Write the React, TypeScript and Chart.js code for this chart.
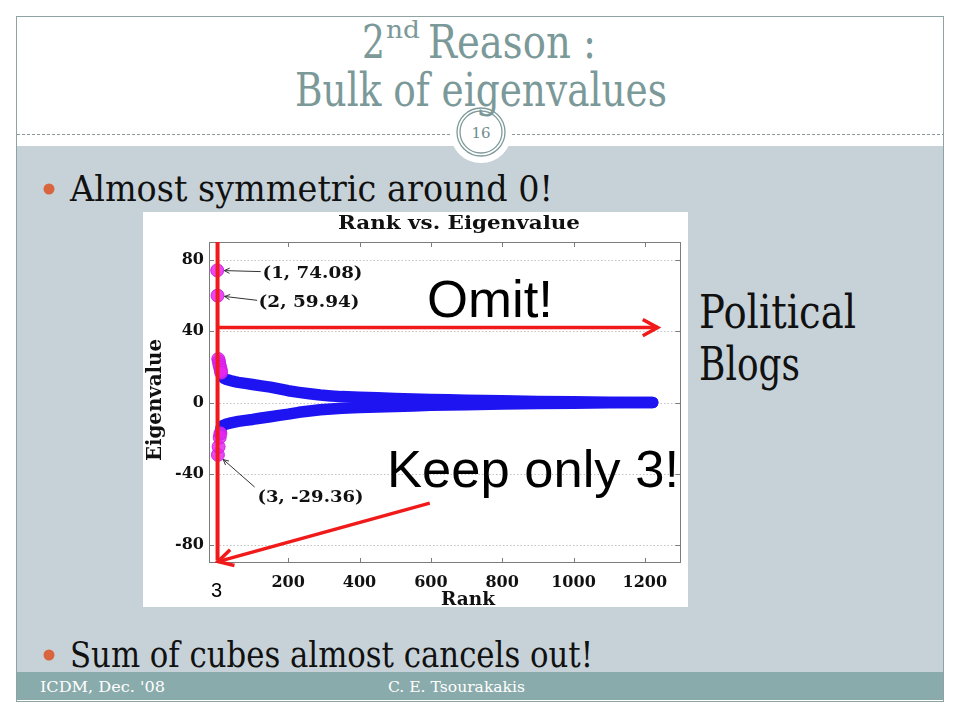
import React, { useEffect, useRef } from "react";
import { Chart, registerables } from "chart.js";

Chart.register(...registerables);

// ---------------- data ----------------
// leading (largest |eigenvalue|) points, highlighted in magenta
const leadingRanks = [1, 2, 3, 4, 5, 6, 7, 8, 9, 10, 11, 12];
const leadingValues = [74.08, 59.94, -29.36, 24.4, -24.8, 23.0, 21.4, -19.6, 19.8, -17.3, 18.2, 16.8];

// bulk of positive eigenvalues
const upperRanks = [12, 15, 20, 25, 30, 40, 50, 60, 80, 100, 125, 150, 175, 200, 230, 260, 290, 320, 350, 400, 450, 500, 550, 600, 650, 700, 800, 900, 1000, 1100, 1222];
const upperValues = [16.8, 14.8, 13.6, 13.1, 12.8, 12.2, 11.7, 11.3, 10.7, 10.1, 9.3, 8.6, 7.6, 6.6, 5.7, 4.9, 4.2, 3.7, 3.3, 2.9, 2.6, 2.3, 2.0, 1.7, 1.5, 1.3, 0.95, 0.6, 0.4, 0.2, 0.05];

// bulk of negative eigenvalues
const lowerRanks = [10, 12, 15, 20, 25, 30, 40, 50, 60, 80, 100, 125, 150, 175, 200, 230, 260, 290, 320, 350, 400, 450, 500, 550, 600, 650, 700, 800, 900, 1000, 1100, 1222];
const lowerValues = [-17.3, -14.2, -13.2, -12.6, -12.2, -11.9, -11.4, -11.0, -10.6, -10.0, -9.5, -8.7, -8.0, -7.2, -6.5, -5.5, -4.8, -4.1, -3.6, -3.2, -2.8, -2.5, -2.2, -1.9, -1.6, -1.4, -1.2, -0.9, -0.6, -0.4, -0.2, -0.05];

const xTickValues = [200, 400, 600, 800, 1000, 1200];
const yTickValues = [-80, -40, 0, 40, 80];
const labelledCount = 3; // points 1..3 get "(rank, value)" labels

// ---------------- annotation geometry (data coordinates) ----------------
const LABEL_TEXT_POS = [
  { x: 128, y: 72.1, w: 100 },
  { x: 117, y: 55.8, w: 101 },
  { x: 114, y: -53.5, w: 106 },
];
const LABEL_TAIL_POS = [
  { x: 123, y: 73.4 },
  { x: 113, y: 57.3 },
  { x: 106, y: -47.4 },
];
const CUT_RANK = 2;
const OMIT_LEVEL = 42;
const OMIT_TIP_RANK = 1236;
const KEEP_TAIL = { x: 597, y: -56.4 };
const KEEP_TIP = { x: 3, y: -89.2 };

const SERIF = "'DejaVu Serif', serif";
const SANS = "'Liberation Sans', Arial, sans-serif";

function fitText(ctx: CanvasRenderingContext2D, text: string, x: number, y: number, width: number, align: CanvasTextAlign) {
  const w = ctx.measureText(text).width;
  ctx.save();
  ctx.translate(x, y);
  ctx.scale(width / w, 1);
  ctx.textAlign = align;
  ctx.fillText(text, 0, 0);
  ctx.restore();
}

function arrowHead(ctx: CanvasRenderingContext2D, tx: number, ty: number, fx: number, fy: number, len: number, ang: number) {
  const a = Math.atan2(fy - ty, fx - tx);
  ctx.beginPath();
  ctx.moveTo(tx + len * Math.cos(a - ang), ty + len * Math.sin(a - ang));
  ctx.lineTo(tx, ty);
  ctx.lineTo(tx + len * Math.cos(a + ang), ty + len * Math.sin(a + ang));
  ctx.stroke();
}

const decorPlugin = {
  id: "decor",
  beforeDatasetsDraw(chart: any) {
    const { ctx, chartArea: a, scales } = chart;
    const y = scales.y;
    ctx.save();
    ctx.strokeStyle = "#c2c2c2";
    ctx.lineWidth = 1;
    ctx.setLineDash([1.5, 2]);
    for (const v of yTickValues) {
      const py = Math.round(y.getPixelForValue(v)) + 0.5;
      ctx.beginPath();
      ctx.moveTo(a.left, py);
      ctx.lineTo(a.right, py);
      ctx.stroke();
    }
    ctx.restore();
  },
  afterDatasetsDraw(chart: any) {
    const { ctx, chartArea: a, scales } = chart;
    const xs = scales.x;
    const ys = scales.y;
    const px = (v: number) => xs.getPixelForValue(v);
    const py = (v: number) => ys.getPixelForValue(v);
    ctx.save();
    // box
    ctx.strokeStyle = "#7c7c7c";
    ctx.lineWidth = 1;
    ctx.strokeRect(Math.round(a.left) + 0.5, Math.round(a.top) + 0.5, Math.round(a.right - a.left) - 1, Math.round(a.bottom - a.top) - 1);
    ctx.beginPath();
    for (const v of xTickValues) {
      const x = Math.round(px(v)) + 0.5;
      ctx.moveTo(x, a.top);
      ctx.lineTo(x, a.top + 5);
      ctx.moveTo(x, a.bottom);
      ctx.lineTo(x, a.bottom - 5);
    }
    for (const v of yTickValues) {
      const y = Math.round(py(v)) + 0.5;
      ctx.moveTo(a.left, y);
      ctx.lineTo(a.left + 5, y);
      ctx.moveTo(a.right, y);
      ctx.lineTo(a.right - 5, y);
    }
    ctx.stroke();

    // titles
    ctx.fillStyle = "#111";
    ctx.textBaseline = "middle";
    ctx.font = `bold 19px ${SERIF}`;
    fitText(ctx, "Rank vs. Eigenvalue", 316, 12, 242, "center");
    ctx.font = `bold 19px ${SERIF}`;
    ctx.textBaseline = "alphabetic";
    fitText(ctx, "Rank", 325, 393, 54, "center");
    ctx.save();
    ctx.translate(13, 188);
    ctx.rotate(-Math.PI / 2);
    ctx.textBaseline = "middle";
    ctx.font = `bold 20px ${SERIF}`;
    fitText(ctx, "Eigenvalue", 0, 0, 122, "center");
    ctx.restore();

    // point labels with thin arrows
    ctx.font = `bold 17px ${SERIF}`;
    ctx.textBaseline = "middle";
    ctx.strokeStyle = "#333";
    ctx.lineWidth = 1;
    for (let i = 0; i < labelledCount; i++) {
      const txt = `(${leadingRanks[i]}, ${leadingValues[i].toFixed(2)})`;
      const tp = LABEL_TEXT_POS[i];
      fitText(ctx, txt, px(tp.x), py(tp.y), tp.w, "left");
      const tail = LABEL_TAIL_POS[i];
      const tx0 = px(tail.x), ty0 = py(tail.y);
      const ptx = px(leadingRanks[i]), pty = py(leadingValues[i]);
      const d = Math.hypot(tx0 - ptx, ty0 - pty);
      const tipx = ptx + ((tx0 - ptx) / d) * 7;
      const tipy = pty + ((ty0 - pty) / d) * 7;
      ctx.beginPath();
      ctx.moveTo(tx0, ty0);
      ctx.lineTo(tipx, tipy);
      ctx.stroke();
      arrowHead(ctx, tipx, tipy, tx0, ty0, 6, 0.45);
    }

    // red annotations
    ctx.strokeStyle = "#f01a1a";
    ctx.lineWidth = 4;
    ctx.lineCap = "butt";
    ctx.beginPath();
    ctx.moveTo(px(CUT_RANK), a.top);
    ctx.lineTo(px(CUT_RANK), py(-88.6));
    ctx.stroke();

    ctx.lineWidth = 3.5;
    ctx.beginPath();
    ctx.moveTo(px(CUT_RANK), py(OMIT_LEVEL));
    ctx.lineTo(px(OMIT_TIP_RANK), py(OMIT_LEVEL));
    ctx.stroke();
    arrowHead(ctx, px(OMIT_TIP_RANK), py(OMIT_LEVEL), px(CUT_RANK), py(OMIT_LEVEL), 17, 0.5);

    ctx.beginPath();
    ctx.moveTo(px(KEEP_TAIL.x), py(KEEP_TAIL.y));
    ctx.lineTo(px(KEEP_TIP.x), py(KEEP_TIP.y));
    ctx.stroke();
    arrowHead(ctx, px(KEEP_TIP.x), py(KEEP_TIP.y), px(KEEP_TAIL.x), py(KEEP_TAIL.y), 17, 0.5);
    ctx.restore();
  },
};

function toPoints(xs: number[], ys: number[]) {
  return xs.map((x, i) => ({ x, y: ys[i] }));
}

function EigenChart() {
  const ref = useRef<HTMLCanvasElement>(null);
  useEffect(() => {
    const canvas = ref.current!;
    const tickFont = { family: SERIF, weight: "bold" as const, size: 16 };
    const chart = new Chart(canvas, {
      type: "scatter",
      data: {
        datasets: [
          {
            label: "leading",
            data: toPoints(leadingRanks, leadingValues),
            pointRadius: 6.5,
            pointBackgroundColor: "rgba(232,40,236,0.85)",
            pointBorderColor: "rgba(200,30,230,0.9)",
            pointBorderWidth: 1,
            order: 0,
          },
          {
            label: "positive bulk",
            data: toPoints(upperRanks, upperValues),
            showLine: true,
            pointRadius: 0,
            borderColor: "#1e14f2",
            borderWidth: 11.5,
            borderCapStyle: "round",
            borderJoinStyle: "round",
            order: 1,
          },
          {
            label: "negative bulk",
            data: toPoints(lowerRanks, lowerValues),
            showLine: true,
            pointRadius: 0,
            borderColor: "#1e14f2",
            borderWidth: 11.5,
            borderCapStyle: "round",
            borderJoinStyle: "round",
            order: 1,
          },
        ],
      } as any,
      options: {
        animation: false,
        responsive: false,
        layout: { padding: { top: 30, right: 2, left: 0, bottom: 0 } },
        plugins: { legend: { display: false }, tooltip: { enabled: false }, title: { display: false } },
        scales: {
          x: {
            type: "linear",
            min: -22,
            max: 1300,
            afterBuildTicks: (s: any) => {
              s.ticks = xTickValues.map((v) => ({ value: v }));
            },
            afterFit: (s: any) => {
              s.height = 44;
            },
            grid: { display: false, drawTicks: false },
            border: { display: false },
            ticks: {
              font: tickFont,
              color: "#111",
              padding: 10,
              maxRotation: 0,
              autoSkip: false,
              callback: (v: any) => String(v),
            },
          },
          y: {
            type: "linear",
            min: -90,
            max: 90,
            afterBuildTicks: (s: any) => {
              s.ticks = yTickValues.map((v) => ({ value: v }));
            },
            afterFit: (s: any) => {
              s.width = 66;
            },
            grid: { display: false, drawTicks: false },
            border: { display: false },
            ticks: { font: tickFont, color: "#111", padding: 5, autoSkip: false, callback: (v: any) => String(v) },
          },
        },
      } as any,
      plugins: [decorPlugin],
    });
    return () => chart.destroy();
  }, []);
  return (
    <canvas
      ref={ref}
      width={545}
      height={395}
      style={{ position: "absolute", left: 143, top: 212, width: 545, height: 395, background: "#fff" }}
    />
  );
}

export default function App() {
  const teal = "#7b9998";
  return (
    <div style={{ position: "fixed", left: 0, top: 0, width: 960, height: 720, background: "#fff", overflow: "hidden" }}>
      <svg width={960} height={720} style={{ position: "absolute", left: 0, top: 0 }}>
        <rect x={16.5} y={16.5} width={927} height={685} fill="#fff" stroke="#8fa3a3" strokeWidth={1} />
        <rect x={17} y={146} width={926} height={526} fill="#c7d2d8" />
        <rect x={17} y={672} width={926} height={28} fill="#8aabab" />
        <line x1={17} x2={943} y1={134.5} y2={134.5} stroke="#8a9a9a" strokeDasharray="3 2" strokeWidth={1} />
        <circle cx={481} cy={132} r={31} fill="#fff" />
        <circle cx={481} cy={132} r={24} fill="none" stroke="#7f9a9a" strokeWidth={1.3} />
        <circle cx={481} cy={132} r={21} fill="none" stroke="#7f9a9a" strokeWidth={1.3} />
        <text x={481} y={138} textAnchor="middle" fontFamily={SERIF} fontSize={15} fill="#6f8c8c">16</text>

        <text x={362} y={58} fontFamily={SERIF} fontSize={46} fill={teal} textLength={23} lengthAdjust="spacingAndGlyphs">2</text>
        <text x={386} y={38} fontFamily={SERIF} fontSize={25} fill={teal} textLength={34} lengthAdjust="spacingAndGlyphs">nd</text>
        <text x={428} y={58} fontFamily={SERIF} fontSize={46} fill={teal} textLength={168} lengthAdjust="spacingAndGlyphs">Reason :</text>
        <text x={295} y={106} fontFamily={SERIF} fontSize={46} fill={teal} textLength={372} lengthAdjust="spacingAndGlyphs">Bulk of eigenvalues</text>

        <circle cx={49} cy={189} r={5.5} fill="#d9653e" />
        <text x={70} y={201} fontFamily={SERIF} fontSize={35} fill="#111" textLength={483} lengthAdjust="spacingAndGlyphs">Almost symmetric around 0!</text>
        <circle cx={49} cy={655} r={5.5} fill="#d9653e" />
        <text x={70} y={667} fontFamily={SERIF} fontSize={35} fill="#111" textLength={523} lengthAdjust="spacingAndGlyphs">Sum of cubes almost cancels out!</text>

        <text x={699} y={328} fontFamily={SERIF} fontSize={46} fill="#111" textLength={157} lengthAdjust="spacingAndGlyphs">Political</text>
        <text x={699} y={380} fontFamily={SERIF} fontSize={46} fill="#111" textLength={101} lengthAdjust="spacingAndGlyphs">Blogs</text>

        <text x={40} y={692} fontFamily={SERIF} fontSize={15} fill="#fff" textLength={125} lengthAdjust="spacingAndGlyphs">ICDM, Dec. '08</text>
        <text x={388} y={692} fontFamily={SERIF} fontSize={15} fill="#fff" textLength={137} lengthAdjust="spacingAndGlyphs">C. E. Tsourakakis</text>
      </svg>
      <EigenChart />
      <svg width={960} height={720} style={{ position: "absolute", left: 0, top: 0, pointerEvents: "none" }}>
        <text x={427} y={317} fontFamily={SANS} fontSize={52} fill="#000" textLength={126} lengthAdjust="spacingAndGlyphs">Omit!</text>
        <text x={387} y={487} fontFamily={SANS} fontSize={52} fill="#000" textLength={292} lengthAdjust="spacingAndGlyphs">Keep only 3!</text>
        <text x={211} y={597} fontFamily={SANS} fontSize={20} fill="#000">3</text>
      </svg>
    </div>
  );
}
